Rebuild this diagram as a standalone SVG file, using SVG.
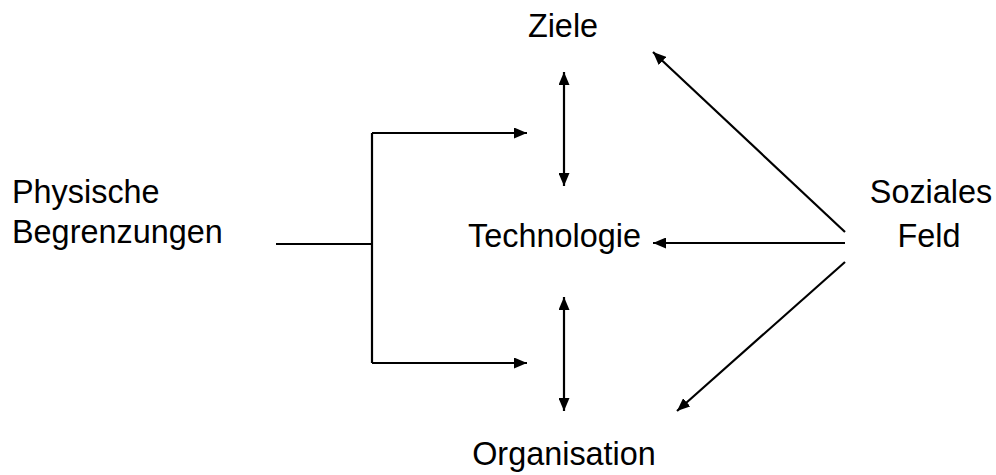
<svg xmlns="http://www.w3.org/2000/svg" width="996" height="475" viewBox="0 0 996 475">
<defs>
<marker id="ah" markerUnits="userSpaceOnUse" markerWidth="13" markerHeight="11" refX="13" refY="5.5" orient="auto-start-reverse">
<path d="M0,0 L13,5.5 L0,11 z" fill="#000"/>
</marker>
</defs>
<style>
text{font-family:"Liberation Sans",Arial,sans-serif;font-size:32.4px;fill:#000}
.c{fill:none;stroke:#000;stroke-width:2.2}
.a{marker-end:url(#ah)}
.d{marker-start:url(#ah);marker-end:url(#ah)}
</style>
<rect width="996" height="475" fill="#fff"/>
<g id="ziele"><text x="563" y="37" text-anchor="middle">Ziele</text></g>
<g id="technologie"><text x="554.5" y="247" text-anchor="middle">Technologie</text></g>
<g id="organisation"><text x="564" y="465" text-anchor="middle">Organisation</text></g>
<g id="physische"><text x="12" y="203">Physische</text><text x="12" y="243">Begrenzungen</text></g>
<g id="soziales"><text x="931" y="203" text-anchor="middle">Soziales</text><text x="929" y="247" text-anchor="middle">Feld</text></g>
<g id="connectors">
<path class="c" d="M276,244 H372 M372,133 V363"/>
<path class="c a" d="M372,133 H527"/>
<path class="c a" d="M372,363 H527"/>
<path class="c d" d="M564,72 V186"/>
<path class="c d" d="M564,297 V411"/>
<path class="c a" d="M845,232 L653,52"/>
<path class="c a" d="M845,243 H653"/>
<path class="c a" d="M845,262 L677,411"/>
</g>
</svg>
